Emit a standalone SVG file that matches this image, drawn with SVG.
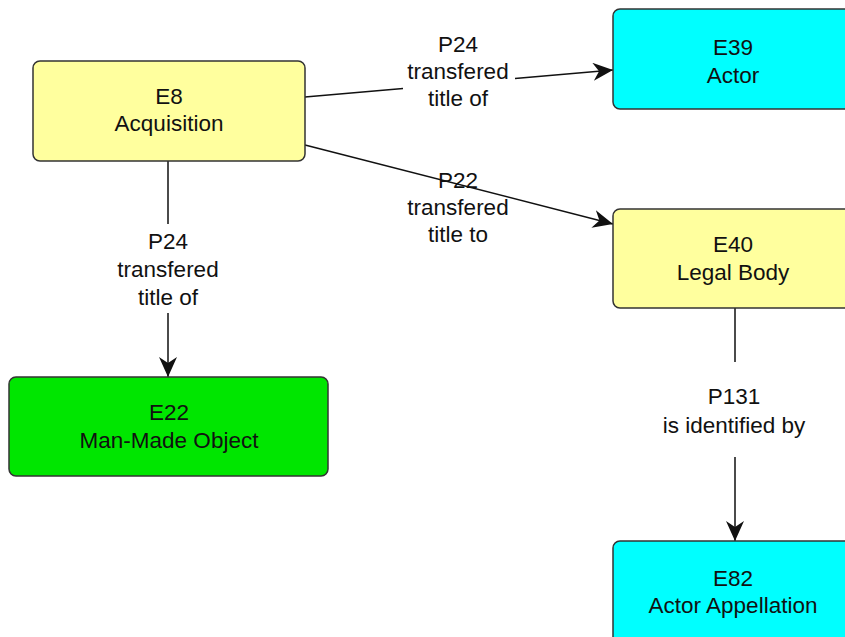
<svg xmlns="http://www.w3.org/2000/svg" width="845" height="637" viewBox="0 0 845 637">
<defs>
<style>
.node rect{stroke:#333;stroke-width:1.5}
.yellow{fill:#FFFF9E}
.cyan{fill:#00FFFF}
.green{fill:#00E600}
text{font-family:"Liberation Sans",Arial,sans-serif;font-size:22.5px;fill:#111;text-anchor:middle}
.edge{fill:none;stroke:#111;stroke-width:1.5}
</style>
<marker id="arr" markerUnits="userSpaceOnUse" markerWidth="22" markerHeight="20" refX="20" refY="9" orient="auto">
<path d="M0,0 L20,9 L0,18 L6,9 z" fill="#111"/>
</marker>
</defs>
<rect width="845" height="637" fill="#fff"/>
<g id="connectors">
<path class="edge" d="M305,97 L403,88.4 M515,78.6 L613,70" marker-end="url(#arr)"/>
<path class="edge" d="M305,145 L613,224" marker-end="url(#arr)"/>
<path class="edge" d="M168,161 V224 M168,313 V377" marker-end="url(#arr)"/>
<path class="edge" d="M735,308 V362 M735,457 V541" marker-end="url(#arr)"/>
<text x="458" y="52">P24</text>
<text x="458" y="79">transfered</text>
<text x="458" y="106">title of</text>
<text x="458" y="188">P22</text>
<text x="458" y="215">transfered</text>
<text x="458" y="242">title to</text>
<text x="168" y="249">P24</text>
<text x="168" y="277">transfered</text>
<text x="168" y="305">title of</text>
<text x="734" y="404">P131</text>
<text x="734" y="433">is identified by</text>
</g>
<g id="E8" class="node">
<rect class="yellow" x="33" y="61" width="272" height="100" rx="7"/>
<text x="169" y="104">E8</text>
<text x="169" y="131">Acquisition</text>
</g>
<g id="E39" class="node">
<rect class="cyan" x="613" y="9" width="240" height="100" rx="7"/>
<text x="733" y="55">E39</text>
<text x="733" y="83">Actor</text>
</g>
<g id="E40" class="node">
<rect class="yellow" x="613" y="209" width="240" height="99" rx="7"/>
<text x="733" y="252">E40</text>
<text x="733" y="280">Legal Body</text>
</g>
<g id="E22" class="node">
<rect class="green" x="9" y="377" width="319" height="99" rx="7"/>
<text x="169" y="420">E22</text>
<text x="169" y="448">Man-Made Object</text>
</g>
<g id="E82" class="node">
<rect class="cyan" x="613" y="541" width="240" height="110" rx="7"/>
<text x="733" y="586">E82</text>
<text x="733" y="613">Actor Appellation</text>
</g>
</svg>
